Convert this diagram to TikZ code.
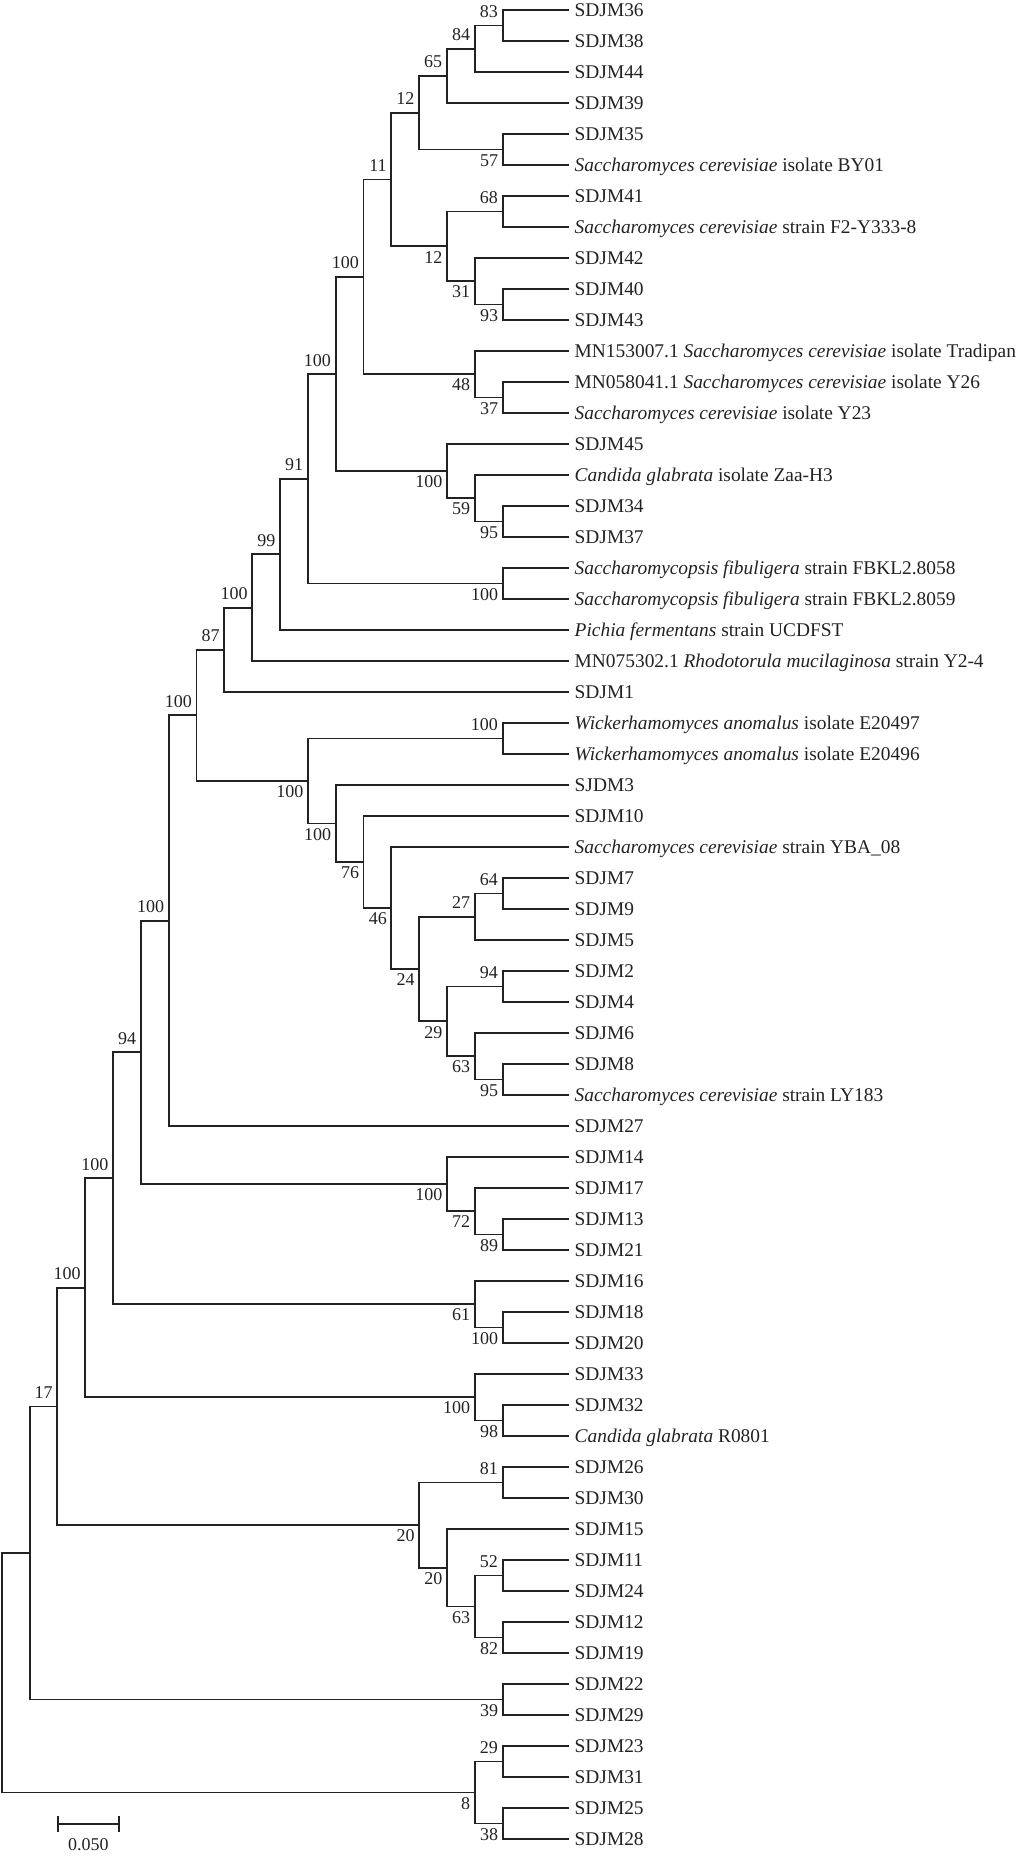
\documentclass[tikz,border=0pt]{standalone}
\usepackage{fontspec}
\setmainfont{Liberation Serif}
\definecolor{ink}{HTML}{222222}
\begin{document}
\begin{tikzpicture}[x=1pt,y=-1pt,
  br/.style={draw=ink,line width=1.9pt},
  leaf/.style={anchor=base west,inner sep=0pt,xshift=6pt,yshift=-6.4pt,text=ink,font=\fontsize{19.4}{22}\selectfont},
  bsup/.style={anchor=base east,inner sep=0pt,xshift=-4.5pt,yshift=8pt,text=ink,font=\fontsize{18}{20}\selectfont},
  bsdn/.style={anchor=base east,inner sep=0pt,xshift=-4.3pt,yshift=-16.7pt,text=ink,font=\fontsize{18}{20}\selectfont}]
\useasboundingbox (0,0) rectangle (1018,1856);
% leaves
\foreach \t [count=\i] in {SDJM36,SDJM38,SDJM44,SDJM39,SDJM35,
 {\textit{Saccharomyces cerevisiae} isolate BY01},SDJM41,
 {\textit{Saccharomyces cerevisiae} strain F2-Y333-8},SDJM42,SDJM40,SDJM43,
 {MN153007.1 \textit{Saccharomyces cerevisiae} isolate Tradipan},
 {MN058041.1 \textit{Saccharomyces cerevisiae} isolate Y26},
 {\textit{Saccharomyces cerevisiae} isolate Y23},SDJM45,
 {\textit{Candida glabrata} isolate Zaa-H3},SDJM34,SDJM37,
 {\textit{Saccharomycopsis fibuligera} strain FBKL2.8058},
 {\textit{Saccharomycopsis fibuligera} strain FBKL2.8059},
 {\textit{Pichia fermentans} strain UCDFST},
 {MN075302.1 \textit{Rhodotorula mucilaginosa} strain Y2-4},SDJM1,
 {\textit{Wickerhamomyces anomalus} isolate E20497},
 {\textit{Wickerhamomyces anomalus} isolate E20496},SJDM3,SDJM10,
 {\textit{Saccharomyces cerevisiae} strain YBA\_08},SDJM7,SDJM9,SDJM5,SDJM2,SDJM4,SDJM6,SDJM8,
 {\textit{Saccharomyces cerevisiae} strain LY183},SDJM27,SDJM14,SDJM17,SDJM13,SDJM21,
 SDJM16,SDJM18,SDJM20,SDJM33,SDJM32,{\textit{Candida glabrata} R0801},
 SDJM26,SDJM30,SDJM15,SDJM11,SDJM24,SDJM12,SDJM19,SDJM22,SDJM29,SDJM23,SDJM31,SDJM25,SDJM28}
{
  \coordinate (l\i) at (568.5,{10+31*(\i-1)});
  \node[leaf] (t\i) at (l\i) {\t};
}
% internal nodes
\coordinate (n83) at (502.6,25.5);
\coordinate (n84) at (474.7,48.75);
\coordinate (n65) at (446.9,75.875);
\coordinate (n57) at (502.6,149.5);
\coordinate (n12a) at (419.1,112.69);
\coordinate (n68) at (502.6,211.5);
\coordinate (n93) at (502.6,304.5);
\coordinate (n31) at (474.7,281.25);
\coordinate (n12b) at (446.9,246.375);
\coordinate (n11) at (391.3,179.53);
\coordinate (n37) at (502.6,397.5);
\coordinate (n48) at (474.7,374.25);
\coordinate (n100a) at (363.5,276.89);
\coordinate (n95a) at (502.6,521.5);
\coordinate (n59) at (474.7,498.25);
\coordinate (n100c) at (446.9,471.125);
\coordinate (n100b) at (335.6,374.01);
\coordinate (n100d) at (502.6,583.5);
\coordinate (n91) at (307.8,478.75);
\coordinate (n99) at (280.0,554.375);
\coordinate (n100e) at (252.2,607.69);
\coordinate (n87) at (224.4,649.84);
\coordinate (n100h) at (502.6,738.5);
\coordinate (n95b) at (502.6,1079.5);
\coordinate (n63a) at (474.7,1056.25);
\coordinate (n94a) at (502.6,986.5);
\coordinate (n29a) at (446.9,1021.375);
\coordinate (n64) at (502.6,893.5);
\coordinate (n27) at (474.7,916.75);
\coordinate (n24) at (419.1,969.06);
\coordinate (n46) at (391.3,908.03);
\coordinate (n76) at (363.5,862.02);
\coordinate (n100i) at (335.6,823.51);
\coordinate (n100g) at (307.8,781.0);
\coordinate (n100f) at (196.5,715.42);
\coordinate (n100j) at (168.7,920.71);
\coordinate (n89) at (502.6,1234.5);
\coordinate (n72) at (474.7,1211.25);
\coordinate (n100k) at (446.9,1184.125);
\coordinate (n94b) at (140.9,1052.42);
\coordinate (n100m) at (502.6,1327.5);
\coordinate (n61) at (474.7,1304.25);
\coordinate (n100l) at (113.1,1178.33);
\coordinate (n98) at (502.6,1420.5);
\coordinate (n100o) at (474.7,1397.25);
\coordinate (n100n) at (85.3,1287.79);
\coordinate (n81) at (502.6,1482.5);
\coordinate (n52) at (502.6,1575.5);
\coordinate (n82) at (502.6,1637.5);
\coordinate (n63b) at (474.7,1606.5);
\coordinate (n20b) at (446.9,1567.75);
\coordinate (n20a) at (419.1,1525.125);
\coordinate (n17) at (57.4,1406.46);
\coordinate (n39) at (502.6,1699.5);
\coordinate (nX) at (29.6,1552.98);
\coordinate (n29b) at (502.6,1761.5);
\coordinate (n38) at (502.6,1823.5);
\coordinate (n8) at (474.7,1792.5);
\coordinate (root) at (1.8,1672.74);
% brackets: node / upper child / lower child
\foreach \n/\a/\b in {n83/l1/l2, n84/n83/l3, n65/n84/l4, n57/l5/l6, n12a/n65/n57,
  n68/l7/l8, n93/l10/l11, n31/l9/n93, n12b/n68/n31, n11/n12a/n12b,
  n37/l13/l14, n48/l12/n37, n100a/n11/n48, n95a/l17/l18, n59/l16/n95a,
  n100c/l15/n59, n100b/n100a/n100c, n100d/l19/l20, n91/n100b/n100d,
  n99/n91/l21, n100e/n99/l22, n87/n100e/l23, n100h/l24/l25, n64/l29/l30,
  n27/n64/l31, n94a/l32/l33, n95b/l35/l36, n63a/l34/n95b, n29a/n94a/n63a,
  n24/n27/n29a, n46/l28/n24, n76/l27/n46, n100i/l26/n76, n100g/n100h/n100i,
  n100f/n87/n100g, n100j/n100f/l37, n89/l40/l41, n72/l39/n89, n100k/l38/n72,
  n94b/n100j/n100k, n100m/l43/l44, n61/l42/n100m, n100l/n94b/n61,
  n98/l46/l47, n100o/l45/n98, n100n/n100l/n100o, n81/l48/l49, n52/l51/l52,
  n82/l53/l54, n63b/n52/n82, n20b/l50/n63b, n20a/n81/n20b, n17/n100n/n20a,
  n39/l55/l56, nX/n17/n39, n29b/l57/l58, n38/l59/l60, n8/n29b/n38, root/nX/n8}
{
  \draw[br] (\a) -| (\n) |- (\b);
}
% bootstrap labels above
\foreach \n/\v in {n83/83, n84/84, n65/65, n12a/12, n68/68, n11/11, n100a/100,
  n100b/100, n91/91, n99/99, n100e/100, n87/87, n100h/100, n64/64, n27/27,
  n94a/94, n100f/100, n100j/100, n94b/94, n100l/100, n100n/100, n81/81,
  n52/52, n17/17, n29b/29}
{
  \node[bsup] (b\n) at (\n) {\v};
}
% bootstrap labels below
\foreach \n/\v in {n57/57, n93/93, n31/31, n12b/12, n37/37, n48/48, n95a/95,
  n59/59, n100c/100, n100d/100, n95b/95, n63a/63, n29a/29, n24/24, n46/46,
  n76/76, n100i/100, n100g/100, n89/89, n72/72, n100k/100, n100m/100, n61/61,
  n98/98, n100o/100, n82/82, n63b/63, n20b/20, n20a/20, n39/39, n38/38, n8/8}
{
  \node[bsdn] (b\n) at (\n) {\v};
}
% scale bar
\coordinate (sb1) at (57.7,1824);
\coordinate (sb2) at (119,1824);
\draw[br] (sb1) -- (sb2);
\draw[br] ([yshift=8pt]sb1) -- ([yshift=-8pt]sb1);
\draw[br] ([yshift=8pt]sb2) -- ([yshift=-8pt]sb2);
\node[anchor=base,inner sep=0pt,text=ink,font=\fontsize{18}{20}\selectfont] (sbl) at (88.3,1850) {0.050};
\end{tikzpicture}
\end{document}
